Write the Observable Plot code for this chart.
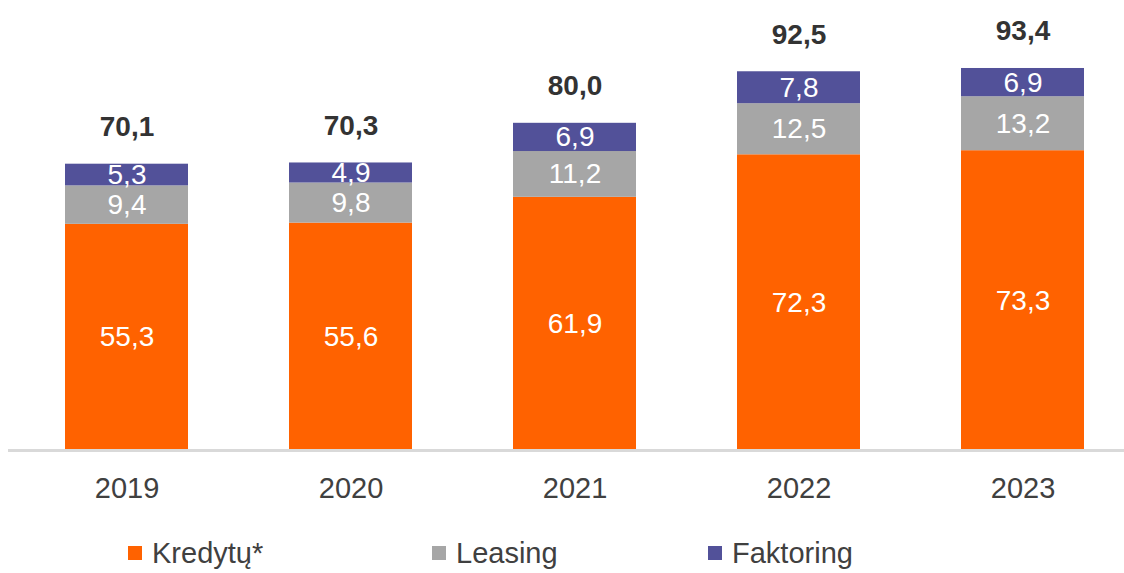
<!DOCTYPE html>
<html>
<head>
<meta charset="utf-8">
<script src="https://cdn.jsdelivr.net/npm/d3@7"></script>
<script src="https://cdn.jsdelivr.net/npm/@observablehq/plot@0.6"></script>
<style>
  html, body { margin: 0; padding: 0; background: #fff; }
  #wrap { position: relative; width: 1124px; height: 573px; overflow: hidden; font-family: "Liberation Sans", Arial, sans-serif; }
  #legend { position: absolute; top: 537px; left: 0; width: 1124px; height: 34px; }
  .item { position: absolute; display: flex; align-items: center; font-size: 29px; line-height: 32px; color: #404040; }
  .sw { width: 14px; height: 14px; margin-right: 10px; }
</style>
</head>
<body>
<div id="wrap"><div id="chart"></div><div id="legend"></div></div>
<script>
const years = ["2019", "2020", "2021", "2022", "2023"];
const series = ["Kredytų*", "Leasing", "Faktoring"];
const colors = ["#ff6200", "#a6a6a6", "#525199"];
const kredyty = [55.3, 55.6, 61.9, 72.3, 73.3];
const leasing = [9.4, 9.8, 11.2, 12.5, 13.2];
const faktoring = [5.3, 4.9, 6.9, 7.8, 6.9];
const totals = [70.1, 70.3, 80.0, 92.5, 93.4];
const legendX = [128, 432, 708];

const values = [kredyty, leasing, faktoring];
const data = [];
series.forEach((s, si) => years.forEach((y, yi) => data.push({year: y, series: s, value: values[si][yi]})));
const totalData = years.map((y, i) => ({year: y, total: totals[i]}));
const fmt = v => v.toFixed(1).replace(".", ",");

const chart = Plot.plot({
  width: 1124,
  height: 530,
  marginLeft: 8,
  marginRight: 0,
  marginTop: 41,
  marginBottom: 80,
  style: {fontFamily: "Liberation Sans, Arial, sans-serif", background: "#fff"},
  x: {domain: years, paddingInner: 0.45, paddingOuter: 0.216, align: 0.59, label: null},
  y: {domain: [0, 100], axis: null},
  color: {domain: series, range: colors},
  marks: [
    Plot.barY(data, Plot.stackY({x: "year", y: "value", fill: "series", order: series})),
    Plot.text(data, Plot.stackY({x: "year", y: "value", z: "series", order: series, text: d => fmt(d.value), fill: "white", fontSize: 28})),
    Plot.text(totalData, {x: "year", y: "total", text: d => fmt(d.total), dy: -37, fontSize: 28, fontWeight: "bold", fill: "#333"}),
    Plot.ruleY([0], {stroke: "#d9d9d9", strokeWidth: 3}),
    Plot.axisX({tickSize: 0, tickPadding: 27, fontSize: 29, color: "#404040", label: null})
  ]
});
document.getElementById("chart").appendChild(chart);

const legend = document.getElementById("legend");
series.forEach((s, i) => {
  const it = document.createElement("div");
  it.className = "item";
  it.style.left = legendX[i] + "px";
  const sw = document.createElement("span");
  sw.className = "sw";
  sw.style.background = colors[i];
  const t = document.createElement("span");
  t.textContent = s;
  it.appendChild(sw); it.appendChild(t);
  legend.appendChild(it);
});
</script>
</body>
</html>
